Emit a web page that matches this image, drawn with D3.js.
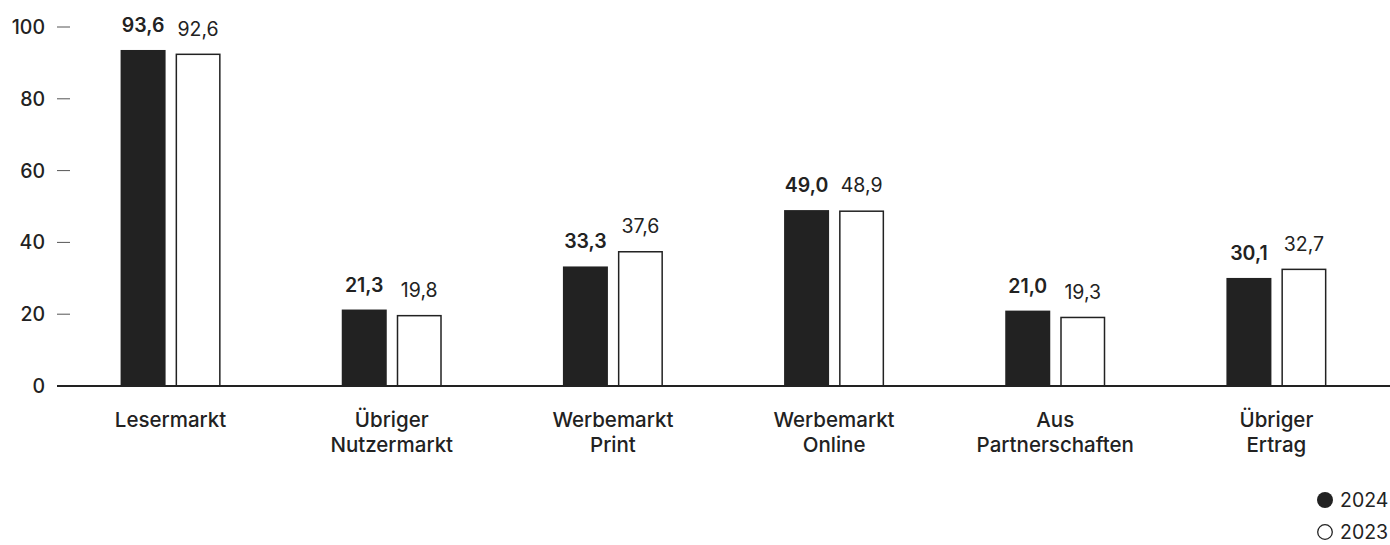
<!DOCTYPE html>
<html>
<head>
<meta charset="utf-8">
<script src="https://cdn.jsdelivr.net/npm/d3@7"></script>
<style>
  html, body { margin: 0; padding: 0; background: #fff; }
  svg { display: block; }
  text { font-family: "Inter", "Liberation Sans", sans-serif; fill: #222; }
</style>
</head>
<body>
<svg id="chart" width="1390" height="545"></svg>
<script>
const categories = [["Lesermarkt"], ["Übriger", "Nutzermarkt"], ["Werbemarkt", "Print"], ["Werbemarkt", "Online"], ["Aus", "Partnerschaften"], ["Übriger", "Ertrag"]];
const values2024 = [93.6, 21.3, 33.3, 49.0, 21.0, 30.1];
const values2023 = [92.6, 19.8, 37.6, 48.9, 19.3, 32.7];
const seriesNames = ["2024", "2023"];
const yTicks = [0, 20, 40, 60, 80, 100];

const svg = d3.select("#chart");
const W = 1390, H = 545;
const dark = "#222";

const x = d3.scaleBand().domain(d3.range(categories.length)).range([60, 1387]).padding(0);
const y = d3.scaleLinear().domain([0, 100]).range([386, 27]);

const barW = 45, gap = 10;
const fmt = v => d3.format(".1f")(v).replace(".", ",");

// y ticks
const yg = svg.append("g");
yTicks.forEach(t => {
  if (t !== 0) {
    yg.append("line").attr("x1", 57).attr("x2", 70).attr("y1", y(t)).attr("y2", y(t))
      .attr("stroke", "#555").attr("stroke-width", 1);
  }
  yg.append("text").attr("x", 45).attr("y", y(t)).attr("dy", "0.36em")
    .attr("text-anchor", "end").attr("font-size", 19.5).attr("font-weight", 500)
    .text(t);
});

const groups = svg.append("g").selectAll("g").data(categories).join("g");

// 2024 bars
groups.append("rect")
  .attr("x", (d, i) => x(i) + x.bandwidth() / 2 - gap / 2 - barW)
  .attr("y", (d, i) => y(values2024[i]))
  .attr("width", barW)
  .attr("height", (d, i) => y(0) - y(values2024[i]))
  .attr("fill", dark);

// 2023 bars
groups.append("rect")
  .attr("x", (d, i) => x(i) + x.bandwidth() / 2 + gap / 2 + 0.75)
  .attr("y", (d, i) => y(values2023[i]) + 0.75)
  .attr("width", barW - 1.5)
  .attr("height", (d, i) => y(0) - y(values2023[i]) - 0.75)
  .attr("fill", "#fff").attr("stroke", dark).attr("stroke-width", 1.5);

// value labels
groups.append("text")
  .attr("x", (d, i) => x(i) + x.bandwidth() / 2 - gap / 2 - barW / 2)
  .attr("y", (d, i) => y(values2024[i]) - 18)
  .attr("text-anchor", "middle").attr("font-size", 19.5).attr("font-weight", 600)
  .text((d, i) => fmt(values2024[i]));
groups.append("text")
  .attr("x", (d, i) => x(i) + x.bandwidth() / 2 + gap / 2 + barW / 2)
  .attr("y", (d, i) => y(values2023[i]) - 18)
  .attr("text-anchor", "middle").attr("font-size", 19.5).attr("font-weight", 400)
  .text((d, i) => fmt(values2023[i]));

// category labels
groups.append("text")
  .attr("x", (d, i) => x(i) + x.bandwidth() / 2)
  .attr("y", 427)
  .attr("text-anchor", "middle").attr("font-size", 20.5).attr("font-weight", 500)
  .selectAll("tspan").data(d => d).join("tspan")
  .attr("x", function () { return d3.select(this.parentNode).attr("x"); })
  .attr("dy", (d, j) => j === 0 ? 0 : 25)
  .text(d => d);

// baseline axis
svg.append("line").attr("x1", 57).attr("x2", W).attr("y1", y(0)).attr("y2", y(0))
  .attr("stroke", dark).attr("stroke-width", 2);

// legend
const legend = svg.append("g");
seriesNames.forEach((s, i) => {
  const cy = 500 + i * 32;
  legend.append("circle").attr("cx", 1325).attr("cy", cy).attr("r", i === 0 ? 8 : 7.3)
    .attr("fill", i === 0 ? dark : "#fff").attr("stroke", dark).attr("stroke-width", i === 0 ? 0 : 1.3);
  legend.append("text").attr("x", 1340).attr("y", cy).attr("dy", "0.36em")
    .attr("font-size", 19.5).attr("font-weight", 400).text(s);
});
</script>
</body>
</html>
